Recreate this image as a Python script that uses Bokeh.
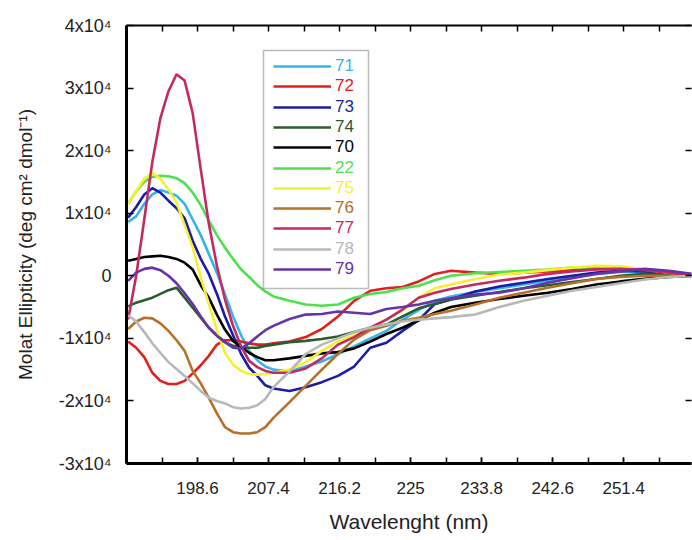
from bokeh.plotting import figure
from bokeh.models import Range1d, FixedTicker, LinearAxis, Legend, LegendItem, BoxAnnotation
from bokeh.embed import file_html
from bokeh.resources import INLINE

# ---------------- data ----------------
wavelength = [190, 191, 192, 193, 194, 195, 196, 197, 198, 199, 200, 201, 202, 203, 204,
              205, 206, 207, 208, 210, 212, 214, 216, 218, 220, 222, 224, 226, 228, 230,
              233, 236, 239, 242, 245, 248, 251, 254, 257, 260]

s71 = [8600, 9500, 11500, 13000, 13700, 13300, 12800, 11500, 9000, 6500, 3500, 500, -3000, -6500, -9500,
       -12000, -13500, -14500, -15000, -15300, -14500, -13700, -12500, -11300, -10000, -8800, -7000, -5500, -4000, -3300,
       -2600, -2000, -1400, -800, -200, 300, 600, 600, 300, 0]
s72 = [-10500, -11500, -13000, -15500, -16800, -17300, -17300, -16800, -15600, -14300, -12800, -11000, -10300, -10300, -10500,
       -10800, -11000, -11000, -10800, -10500, -9800, -8500, -6500, -4000, -2400, -2000, -1800, -900, 300, 800,
       500, 300, 500, 700, 900, 1100, 1100, 900, 500, 0]
s73 = [9300, 11000, 13000, 14000, 13300, 12000, 10800, 9200, 5600, 2700, 300, -2900, -6500, -9500, -12500,
       -14700, -16000, -17500, -18000, -18400, -17800, -17000, -16000, -14500, -11500, -10700, -8800, -7100, -4500, -3800,
       -2500, -1700, -1100, -500, 0, 500, 800, 700, 300, 0]
s74 = [-4900, -4300, -3900, -3500, -2900, -2300, -1900, -3500, -5100, -6700, -8300, -9500, -10600, -11200, -11500,
       -11500, -11500, -11200, -11000, -10600, -10400, -10100, -9700, -9000, -8300, -7800, -6500, -5200, -4500, -3800,
       -3200, -2600, -2000, -1500, -1000, -500, 0, 300, 200, 0]
s70 = [2400, 2700, 3000, 3100, 3200, 3000, 2700, 2100, 1000, -1500, -3500, -6200, -8600, -10400, -11400,
       -12300, -13000, -13500, -13500, -13200, -12800, -12400, -12200, -11600, -10500, -9300, -8300, -7100, -5900, -5000,
       -4300, -3700, -3200, -2700, -2100, -1400, -900, -500, -200, 0]
s22 = [11500, 13500, 15000, 15800, 16000, 15900, 15600, 14800, 13300, 11300, 8800, 6500, 4500, 2700, 1000,
       -200, -1500, -2500, -3300, -4000, -4600, -4800, -4600, -3500, -2900, -2600, -2000, -1600, -700, 0,
       400, 600, 800, 1000, 1300, 1400, 1400, 1000, 500, 0]
s75 = [11500, 13500, 15500, 16400, 15500, 13800, 11700, 8100, 4500, -300, -4500, -8700, -12300, -14200, -15200,
       -15700, -15800, -15700, -15500, -15000, -13800, -12000, -10500, -9500, -8500, -7000, -5500, -3500, -2000, -1400,
       -500, 200, 500, 900, 1300, 1600, 1500, 1000, 500, 0]
s76 = [-8500, -7300, -6700, -6800, -7600, -8800, -10300, -12000, -15200, -17200, -19500, -22000, -24200, -25000, -25200,
       -25200, -25000, -24200, -22700, -20200, -17600, -15000, -12500, -10200, -8700, -8000, -7200, -6700, -6100, -5600,
       -4600, -3500, -2700, -1900, -1200, -500, -200, 0, 0, 0]
s77 = [-7000, 0, 9000, 18200, 25200, 29500, 32200, 31200, 26000, 17000, 8300, 1600, -3800, -8000, -11300,
       -13600, -14600, -15200, -15500, -15500, -14800, -13200, -11000, -9800, -8300, -7000, -5400, -3500, -2700, -2100,
       -1400, -800, -300, 300, 700, 1000, 1100, 900, 500, 0]
s78 = [-6300, -7300, -9000, -10800, -12300, -13800, -14900, -16000, -17200, -18400, -19500, -20000, -20400, -21000, -21200,
       -21100, -20700, -19700, -17800, -15300, -12500, -11000, -10000, -9000, -8300, -7800, -7300, -7000, -6800, -6600,
       -6200, -5000, -4000, -3200, -2400, -1800, -1200, -600, -200, 0]
s79 = [-800, 500, 1100, 1300, 900, 0, -1200, -2800, -4500, -6500, -8300, -9600, -10600, -11500, -11600,
       -10800, -9700, -8700, -8000, -6900, -6200, -6100, -5700, -5900, -6100, -5300, -5000, -4600, -4000, -3600,
       -3000, -2700, -2000, -1100, -400, 300, 700, 1100, 800, 300]

series_names = ["71", "72", "73", "74", "70", "22", "75", "76", "77", "78", "79"]
series_values = [s71, s72, s73, s74, s70, s22, s75, s76, s77, s78, s79]
series_colors = ["#35b6e8", "#e0201c", "#1c1ca8", "#2a5c30", "#000000", "#4ee04e",
                 "#f4f032", "#b5702a", "#c42a62", "#b8b8b8", "#6434a8"]

x_ticks = [198.6, 207.4, 216.2, 225, 233.8, 242.6, 251.4]
x_tick_labels = ["198.6", "207.4", "216.2", "225", "233.8", "242.6", "251.4"]
x_minor_ticks = [189.8, 194.2, 198.6, 203.0, 207.4, 211.8, 216.2, 220.6, 225.0, 229.4,
                 233.8, 238.2, 242.6, 247.0, 251.4, 255.8]
y_ticks = [-30000, -20000, -10000, 0, 10000, 20000, 30000, 40000]
y_tick_labels = ["-3x10\u2074", "-2x10\u2074", "-1x10\u2074", "0", "1x10\u2074", "2x10\u2074", "3x10\u2074", "4x10\u2074"]

FONT = "Liberation Sans"

p = figure(width=692, height=540, x_range=Range1d(189.8, 259.8), y_range=Range1d(-30000, 40000),
           output_backend="svg", toolbar_location=None,
           min_border_left=126, min_border_right=1, min_border_top=25, min_border_bottom=77)
p.xgrid.visible = False
p.ygrid.visible = False
p.outline_line_color = None
p.background_fill_color = "white"

renderers = []
for vals, col in zip(series_values, series_colors):
    r = p.line(wavelength, vals, line_color=col, line_width=2.6)
    renderers.append(r)

# bottom axis
xa = p.xaxis[0]
xa.ticker = FixedTicker(ticks=x_ticks, minor_ticks=x_minor_ticks)
xa.major_label_overrides = {t: l for t, l in zip(x_ticks, x_tick_labels)}
xa.axis_label = "Wavelenght (nm)"
xa.axis_line_width = 3
xa.axis_line_color = "black"
xa.major_tick_in = 6
xa.major_tick_out = 0
xa.minor_tick_in = 6
xa.minor_tick_out = 0
xa.major_tick_line_width = 1.5
xa.minor_tick_line_width = 1.5
xa.major_tick_line_color = "black"
xa.minor_tick_line_color = "black"
xa.major_label_standoff = 18
xa.major_label_text_font = FONT
xa.major_label_text_font_size = "17px"
xa.major_label_text_color = "#222222"
xa.axis_label_text_font = FONT
xa.axis_label_text_font_size = "21px"
xa.axis_label_text_font_style = "normal"
xa.axis_label_text_color = "#222222"
xa.axis_label_standoff = 13

# left axis
ya = p.yaxis[0]
ya.ticker = FixedTicker(ticks=y_ticks)
ya.major_label_overrides = {t: l for t, l in zip(y_ticks, y_tick_labels)}
ya.axis_label = "Molat Ellipticity (deg cm\u00b2 dmol\u207b\u00b9)"
ya.axis_line_width = 3
ya.axis_line_color = "black"
ya.major_tick_in = 7
ya.major_tick_out = 0
ya.minor_tick_in = 0
ya.minor_tick_out = 0
ya.major_tick_line_width = 1.5
ya.major_tick_line_color = "black"
ya.major_label_standoff = 15
ya.major_label_text_font = FONT
ya.major_label_text_font_size = "18px"
ya.major_label_text_color = "#222222"
ya.axis_label_text_font = FONT
ya.axis_label_text_font_size = "19px"
ya.axis_label_text_font_style = "normal"
ya.axis_label_text_color = "#222222"
ya.axis_label_standoff = 20

# top axis (frame line + inward ticks, no labels)
top = LinearAxis(ticker=FixedTicker(ticks=[], minor_ticks=x_minor_ticks),
                 axis_line_width=2, axis_line_color="black",
                 major_tick_in=0, major_tick_out=0, minor_tick_in=6, minor_tick_out=0,
                 minor_tick_line_width=1.5, minor_tick_line_color="black",
                 major_label_standoff=0)
p.add_layout(top, "above")

# right axis (inward ticks only)
right = LinearAxis(ticker=FixedTicker(ticks=[], minor_ticks=y_ticks),
                   axis_line_color=None,
                   major_tick_in=0, major_tick_out=0, minor_tick_in=6, minor_tick_out=0,
                   minor_tick_line_width=1.5, minor_tick_line_color="black",
                   major_label_standoff=0)
p.add_layout(right, "right")

# legend box
box = BoxAnnotation(left=137, right=242, bottom=175, top=413,
                    left_units="screen", right_units="screen", top_units="screen", bottom_units="screen",
                    fill_color="white", fill_alpha=1.0, line_color="#222222", line_width=1.5)
p.add_layout(box)

# one legend per entry, so that each label gets its own colour
for i, (name, r, col) in enumerate(zip(series_names, renderers, series_colors)):
    lg = Legend(items=[LegendItem(label=name, renderers=[r])],
                location=(147, 387 - round(i * 20.3)),
                orientation="vertical", padding=0, margin=0, spacing=0,
                glyph_width=58, glyph_height=20, label_height=20, label_width=10,
                label_standoff=4, label_text_color=col, label_text_font=FONT,
                label_text_font_size="17px", label_text_baseline="middle",
                background_fill_alpha=0, border_line_alpha=0)
    p.add_layout(lg)

open("out.html", "w").write(file_html(p, INLINE))
